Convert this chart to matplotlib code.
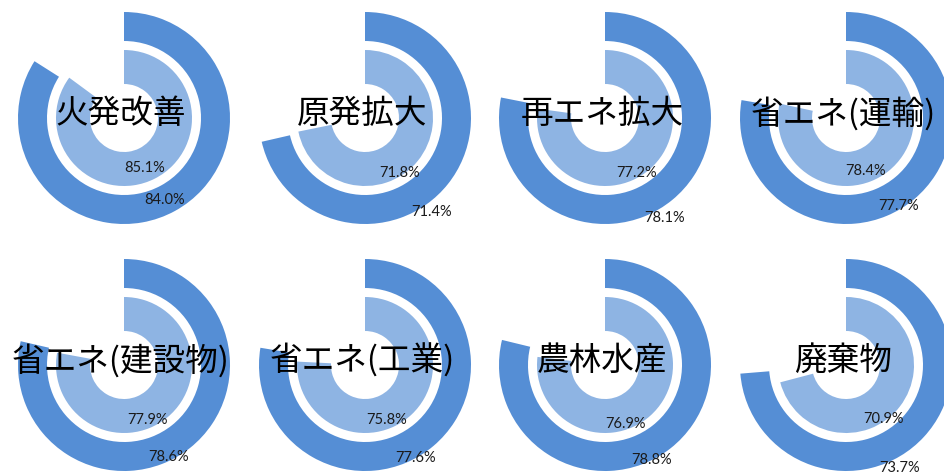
import matplotlib.pyplot as plt

plt.rcParams['font.family'] = ['Noto Sans CJK JP', 'DejaVu Sans']

# Achievement rate per measure: outer ring and inner ring (%)
titles = ['火発改善', '原発拡大', '再エネ拡大', '省エネ(運輸)',
          '省エネ(建設物)', '省エネ(工業)', '農林水産', '廃棄物']
outer_pct = [84.0, 71.4, 78.1, 77.7, 78.6, 77.6, 78.8, 73.7]
inner_pct = [85.1, 71.8, 77.2, 78.4, 77.9, 75.8, 76.9, 70.9]

outer_color = '#558ed5'
inner_color = '#8eb4e3'

# label offsets from each panel centre (px, right / down)
outer_lab = [(41, 82), (67, 94), (60, 100), (53, 88), (45, 92), (51, 93), (47, 95), (54, 103)]
inner_lab = [(21, 50), (35, 55), (32, 55), (20, 53), (24, 55), (22, 55), (21, 59), (38, 54)]

W, H = 945, 473
fig = plt.figure(figsize=(W / 100, H / 100), dpi=100)

# panel centres in pixels (x from left, y from top)
col_x = [124, 365, 605, 846]
row_y = [118, 365]
box = 240


def ring(ax, pct, color, radius, width, lab):
    wedges, texts, autotexts = ax.pie(
        [pct, 100 - pct], colors=[color, 'none'], startangle=90,
        counterclock=False, radius=radius,
        wedgeprops=dict(width=width, linewidth=0),
        autopct='%.1f%%', pctdistance=(radius - width / 2) / radius,
        textprops=dict(fontsize=10.5, color='#1a1a1a', family=['Lato', 'DejaVu Sans']))
    autotexts[1].set_visible(False)
    autotexts[0].set_zorder(5)
    autotexts[0].set_position((lab[0], -lab[1]))


for i, title in enumerate(titles):
    cx = col_x[i % 4]
    cy = row_y[i // 4]
    ax = fig.add_axes([(cx - box / 2) / W, 1 - (cy + box / 2) / H, box / W, box / H])
    ring(ax, outer_pct[i], outer_color, 106, 29, outer_lab[i])
    ring(ax, inner_pct[i], inner_color, 68, 34, inner_lab[i])
    ax.set_xlim(-box / 2, box / 2)
    ax.set_ylim(-box / 2, box / 2)
    ax.set_aspect('equal')
    ax.axis('off')
    ax.text(-3, 4, title, ha='center', va='center', fontsize=23.5,
            color='black', zorder=6)

fig.savefig('out.png', dpi=100)
